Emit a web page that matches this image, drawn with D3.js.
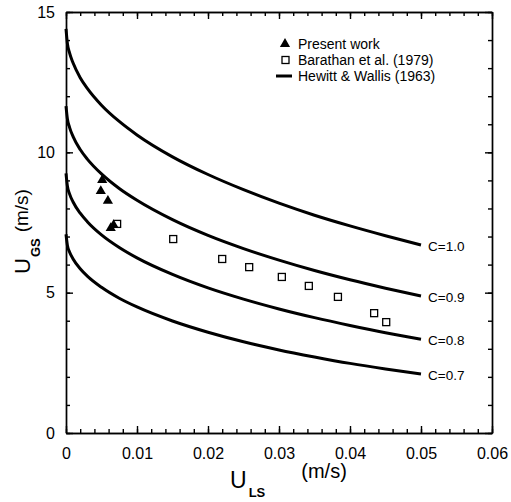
<!DOCTYPE html>
<html>
<head>
<meta charset="utf-8">
<script src="https://cdn.jsdelivr.net/npm/d3@7"></script>
<style>
  body { margin: 0; background: #fff; }
  svg { font-family: "Liberation Sans", Arial, Helvetica, sans-serif; }
</style>
</head>
<body>
<svg id="chart" width="511" height="502"></svg>
<script>
// values
var ulsGrid = [0, 0.0002, 0.0005, 0.001, 0.002, 0.003, 0.005, 0.0075, 0.01, 0.015, 0.02, 0.025, 0.03, 0.035, 0.04, 0.045, 0.05];
var hw10 = [14.40, 13.87, 13.54, 13.18, 12.66, 12.28, 11.68, 11.10, 10.62, 9.84, 9.21, 8.67, 8.19, 7.76, 7.38, 7.03, 6.70];
var hw09 = [11.65, 11.19, 10.89, 10.56, 10.10, 9.76, 9.23, 8.71, 8.29, 7.60, 7.04, 6.57, 6.16, 5.79, 5.46, 5.16, 4.88];
var hw08 = [9.25, 8.79, 8.52, 8.23, 7.83, 7.53, 7.06, 6.61, 6.24, 5.65, 5.17, 4.77, 4.42, 4.11, 3.83, 3.57, 3.34];
var hw07 = [7.08, 6.68, 6.45, 6.20, 5.85, 5.59, 5.19, 4.80, 4.49, 3.99, 3.59, 3.25, 2.96, 2.71, 2.48, 2.28, 2.10];
var curveNames = ['C=1.0', 'C=0.9', 'C=0.8', 'C=0.7'];

var presentUls = [0.0051, 0.0049, 0.0059, 0.0063, 0.0067];
var presentUgs = [9.01, 8.62, 8.27, 7.30, 7.41];

var barathanUls = [0.0072, 0.0151, 0.0220, 0.0258, 0.0304, 0.0342, 0.0383, 0.0434, 0.0451];
var barathanUgs = [7.45, 6.91, 6.20, 5.91, 5.56, 5.24, 4.85, 4.27, 3.95];

var xTicks = [0, 0.01, 0.02, 0.03, 0.04, 0.05, 0.06];
var yTicks = [0, 5, 10, 15];

var svg = d3.select('#chart');

var x = d3.scaleLinear().domain([0, 0.06]).range([66, 492]);
var y = d3.scaleLinear().domain([0, 15]).range([433, 12]);

var xMinor = d3.range(0, 0.0601, 0.002),
    yMinor = d3.range(0, 15.01, 1);

// ticks all point inward, on all four sides
function drawAxis(axis, tx, ty, labels) {
    var g = svg.append('g')
        .attr('transform', 'translate(' + tx + ',' + ty + ')')
        .call(axis);
    g.selectAll('path, line').attr('stroke', '#000').attr('stroke-width', 1.4);
    if (!labels) g.selectAll('text').remove();
    return g;
}

drawAxis(d3.axisBottom(x).tickValues(xMinor).tickSize(-4).tickSizeOuter(0), 0, 433, false);
drawAxis(d3.axisTop(x).tickValues(xMinor).tickSize(-4).tickSizeOuter(0), 0, 12, false);
drawAxis(d3.axisLeft(y).tickValues(yMinor).tickSize(-4).tickSizeOuter(0), 66, 0, false);
drawAxis(d3.axisRight(y).tickValues(yMinor).tickSize(-4).tickSizeOuter(0), 492, 0, false);

drawAxis(d3.axisBottom(x).tickValues(xTicks).tickSize(-7).tickSizeOuter(0).tickPadding(15)
    .tickFormat(function(d) { return d === 0 ? '0' : d3.format('.2f')(d); }), 0, 433, true);
drawAxis(d3.axisTop(x).tickValues(xTicks).tickSize(-7).tickSizeOuter(0), 0, 12, false);
drawAxis(d3.axisLeft(y).tickValues(yTicks).tickSize(-7).tickSizeOuter(0).tickPadding(11)
    .tickFormat(d3.format('d')), 66, 0, true);
drawAxis(d3.axisRight(y).tickValues(yTicks).tickSize(-7).tickSizeOuter(0), 492, 0, false);

svg.selectAll('.tick text')
    .attr('font-family', null)
    .attr('font-size', 16)
    .attr('fill', '#000');

// Hewitt & Wallis curves
var line = d3.line()
    .x(function(d) { return x(d[0]); })
    .y(function(d) { return y(d[1]); })
    .curve(d3.curveMonotoneX);

[hw10, hw09, hw08, hw07].forEach(function(vals, i) {
    var pts = ulsGrid.map(function(u, j) { return [u, vals[j]]; });
    svg.append('path')
        .datum(pts)
        .attr('d', line)
        .attr('fill', 'none')
        .attr('stroke', '#000')
        .attr('stroke-width', 3);
    var last = pts[pts.length - 1];
    svg.append('text')
        .attr('x', x(last[0]) + 7)
        .attr('y', y(last[1]) + 6)
        .attr('font-size', 13.5)
        .text(curveNames[i]);
});

// Barathan et al. squares
svg.append('g').selectAll('rect')
    .data(barathanUls)
    .enter().append('rect')
    .attr('x', function(d) { return x(d) - 3.5; })
    .attr('y', function(d, i) { return y(barathanUgs[i]) - 3.5; })
    .attr('width', 7)
    .attr('height', 7)
    .attr('fill', '#fff')
    .attr('stroke', '#000')
    .attr('stroke-width', 1.3);

// present work triangles
var tri = d3.symbol().type(d3.symbolTriangle).size(45);
svg.append('g').selectAll('path')
    .data(presentUls)
    .enter().append('path')
    .attr('d', tri)
    .attr('transform', function(d, i) { return 'translate(' + x(d) + ',' + y(presentUgs[i]) + ')'; })
    .attr('fill', '#000');

// legend
var lg = svg.append('g').attr('font-size', 14);
lg.append('path').attr('d', tri).attr('transform', 'translate(285,44)');
lg.append('text').attr('x', 298).attr('y', 49).text('Present work');
lg.append('rect').attr('x', 282).attr('y', 56.5).attr('width', 7).attr('height', 7)
    .attr('fill', '#fff').attr('stroke', '#000').attr('stroke-width', 1.3);
lg.append('text').attr('x', 298).attr('y', 65).text('Barathan et al. (1979)');
lg.append('line').attr('x1', 276).attr('x2', 292).attr('y1', 76).attr('y2', 76)
    .attr('stroke', '#000').attr('stroke-width', 3);
lg.append('text').attr('x', 298).attr('y', 81).text('Hewitt & Wallis (1963)');

// axis titles
var xt = svg.append('text').attr('x', 230).attr('y', 488);
xt.append('tspan').attr('font-size', 23).text('U');
xt.append('tspan').attr('font-size', 13).attr('font-weight', 'bold').attr('dy', 9).attr('dx', 2).text('LS');
xt.append('tspan').attr('font-size', 20).attr('dy', -19).attr('dx', 36).text('(m/s)');

var yt = svg.append('text').attr('transform', 'translate(30,274) rotate(-90)');
yt.append('tspan').attr('font-size', 22).text('U');
yt.append('tspan').attr('font-size', 13).attr('font-weight', 'bold').attr('dy', 10).attr('dx', 1).text('GS');
yt.append('tspan').attr('font-size', 19).attr('dy', -12).attr('dx', 6).text('(m/s)');
</script>
</body>
</html>
